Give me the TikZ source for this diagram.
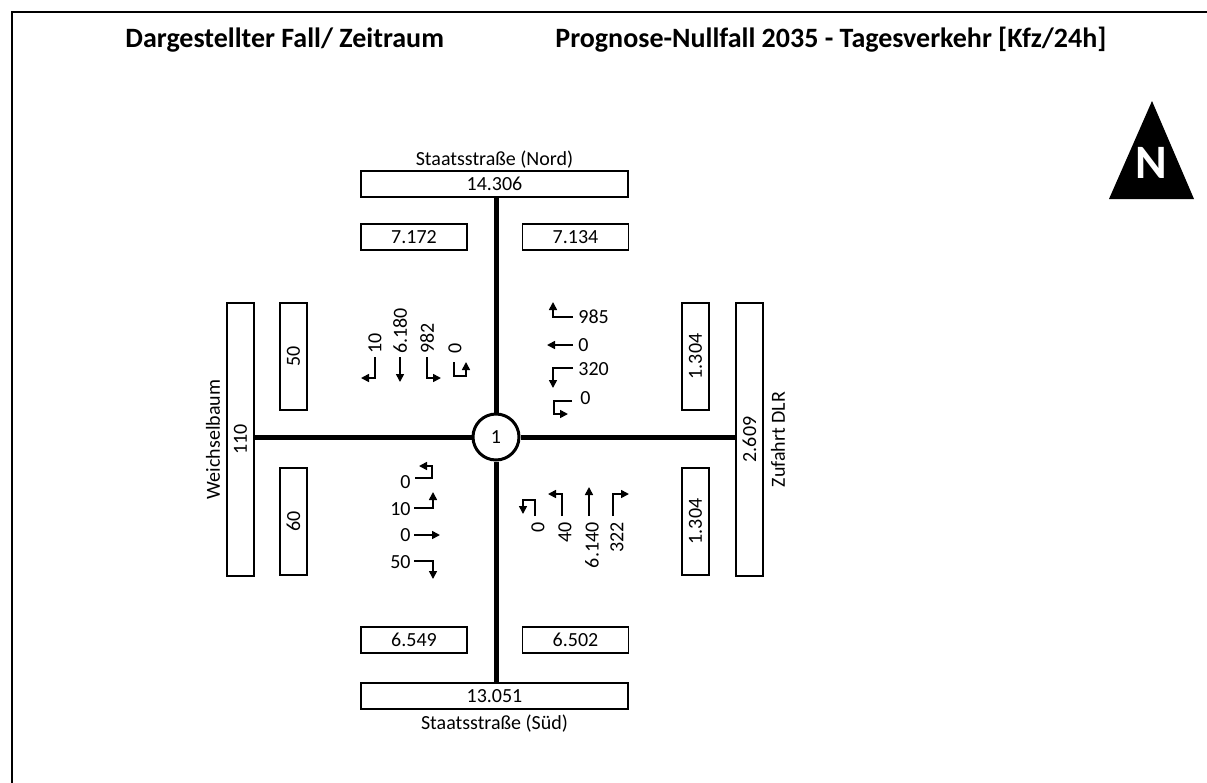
\documentclass[tikz,border=0pt]{standalone}
\usepackage{fontspec}
\setmainfont{Carlito}
\usetikzlibrary{arrows.meta}

\begin{document}
\begin{tikzpicture}[x=0.5pt, y=-0.5pt,
  box/.style={draw, line width=0.8pt, inner sep=0pt, font=\fontsize{10}{11}\selectfont},
  hbox/.style={box, minimum width=#1, minimum height=13pt},
  vbox/.style={box, rotate=90, minimum width=#1, minimum height=13.5pt},
  road/.style={line width=2.5pt},
  arr/.style={line width=0.8pt, -{Triangle[length=4pt, width=4pt]}},
  lbl/.style={font=\fontsize{10}{11}\selectfont, inner sep=0.5pt},
  roadname/.style={font=\fontsize{10}{11}\selectfont, inner sep=0pt},
  hdr/.style={font=\fontsize{14}{16}\selectfont\bfseries, inner sep=0pt, anchor=base west},
]
\useasboundingbox (0,0) rectangle (1207,783);

% Frame and header
\draw[line width=1.2pt] (12,783) -- (12,12) -- (1207,12);
\node[hdr] (fall) at (125,47) {Dargestellter Fall/ Zeitraum};
\node[hdr] (prog) at (555,47) {Prognose-Nullfall 2035 - Tagesverkehr [Kfz/24h]};

% North arrow
\fill (1152,101) -- (1194,199) -- (1109,199) -- cycle;
\node[text=white, font=\fontsize{24}{26}\selectfont\bfseries, inner sep=0pt]
  (narrow) at (1151,163) {N};

% Cross section boxes
\node[roadname, anchor=base] (nname) at (494.5,165) {Staatsstraße (Nord)};
\node[hbox=133.5pt] (nord) at (494.5,184) {14.306};
\node[hbox=53pt] (nin) at (414,237) {7.172};
\node[hbox=53pt] (nout) at (575.5,237) {7.134};
\node[hbox=53pt] (sout) at (414,640) {6.549};
\node[hbox=53pt] (sin) at (575.5,640) {6.502};
\node[hbox=133.5pt] (sued) at (494.5,696) {13.051};
\node[roadname] (sname) at (494.5,724) {Staatsstraße (Süd)};

\node[roadname, rotate=90] (wname) at (213,439.5) {Weichselbaum};
\node[vbox=136.5pt] (west) at (240.5,439.5) {110};
\node[vbox=53.5pt] (wout) at (293.5,356.5) {50};
\node[vbox=53.5pt] (win) at (293.5,521.5) {60};
\node[vbox=53.5pt] (ein) at (695.5,356.5) {1.304};
\node[vbox=53.5pt] (eout) at (695.5,521.5) {1.304};
\node[vbox=136.5pt] (ost) at (749.5,439.5) {2.609};
\node[roadname, rotate=90] (oname) at (778,439.5) {Zufahrt DLR};

% Junction and roads
\node[circle, draw, line width=1.5pt, fill=white, minimum size=23pt, inner sep=0pt,
  font=\fontsize{10}{11}\selectfont] (k1) at (496,437) {1};
\draw[road] (k1) -- (k1 |- nord.south);
\draw[road] (k1) -- (k1 |- sued.north);
\draw[road] (k1) -- (k1 -| west.south);
\draw[road] (k1) -- (k1 -| ost.north);

% Turning movements north
\node[lbl, rotate=90, anchor=west] (n1) at (375,355) {10};
\node[lbl, rotate=90, anchor=west] (n2) at (400,355) {6.180};
\node[lbl, rotate=90, anchor=west] (n3) at (427,355) {982};
\node[lbl, rotate=90, anchor=west] (n4) at (455,355) {0};
\draw[arr] (375,357) -- (375,378) -- (361,378);
\draw[arr] (400,357) -- (400,382);
\draw[arr] (427,357) -- (427,378) -- (441,378);
\draw[arr] (454,362) -- (454,376) -- (466,376) -- (466,362);

% Turning movements east
\node[lbl, anchor=west] (o1) at (577,317) {985};
\node[lbl, anchor=west] (o2) at (577,345) {0};
\node[lbl, anchor=west] (o3) at (577,369) {320};
\node[lbl, anchor=west] (o4) at (579,398) {0};
\draw[arr] (573,317) -- (553,317) -- (553,302);
\draw[arr] (573,345) -- (547,345);
\draw[arr] (573,368) -- (553,368) -- (553,388);
\draw[arr] (572,401) -- (554,401) -- (554,414) -- (568,414);

% Turning movements west
\node[lbl, anchor=east] (w1) at (412,482) {0};
\node[lbl, anchor=east] (w2) at (412,509) {10};
\node[lbl, anchor=east] (w3) at (412,535) {0};
\node[lbl, anchor=east] (w4) at (412,562) {50};
\draw[arr] (415,478) -- (432,478) -- (432,466) -- (419,466);
\draw[arr] (414,508) -- (433,508) -- (433,492);
\draw[arr] (414,535) -- (440,535);
\draw[arr] (414,561) -- (433,561) -- (433,579);

% Turning movements south
\node[lbl, rotate=90, anchor=east] (s1) at (538,521) {0};
\node[lbl, rotate=90, anchor=east] (s2) at (565,521) {40};
\node[lbl, rotate=90, anchor=east] (s3) at (592,521) {6.140};
\node[lbl, rotate=90, anchor=east] (s4) at (617,521) {322};
\draw[arr] (535,516) -- (535,500) -- (523,500) -- (523,514);
\draw[arr] (562,516) -- (562,494) -- (548,494);
\draw[arr] (589,516) -- (589,487);
\draw[arr] (613,516) -- (613,494) -- (629,494);
\end{tikzpicture}
\end{document}
